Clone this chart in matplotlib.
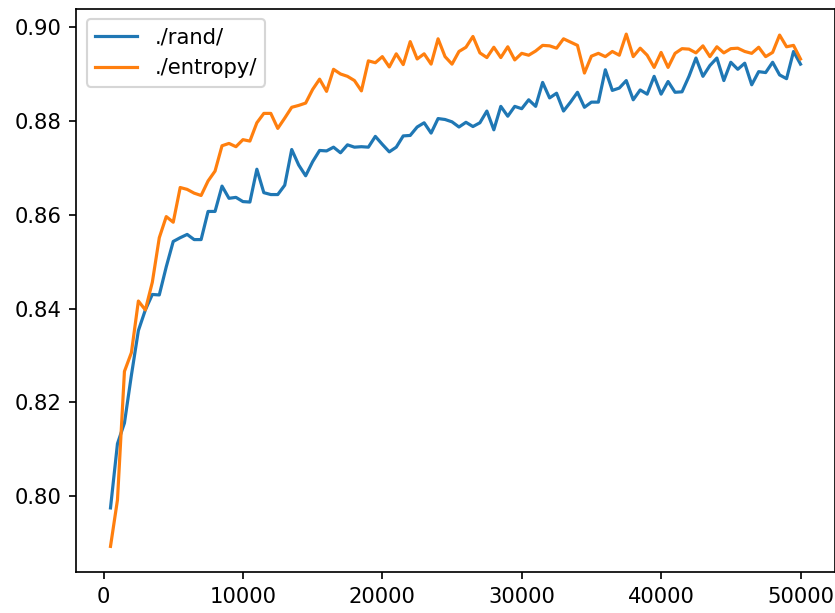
import numpy as np
import matplotlib
matplotlib.use("Agg")
import matplotlib.pyplot as plt

# evaluation every 500 steps
steps = np.arange(500, 50001, 500)

rand_acc = [
    0.7975, 0.8112, 0.8156, 0.8258, 0.8353, 0.8397, 0.8430, 0.8429, 0.8489, 0.8543,
    0.8551, 0.8558, 0.8547, 0.8547, 0.8607, 0.8607, 0.8661, 0.8635, 0.8637, 0.8628,
    0.8627, 0.8697, 0.8647, 0.8643, 0.8643, 0.8663, 0.8739, 0.8706, 0.8683, 0.8713,
    0.8737, 0.8736, 0.8744, 0.8732, 0.8749, 0.8744, 0.8745, 0.8744, 0.8767, 0.8750,
    0.8734, 0.8744, 0.8768, 0.8769, 0.8787, 0.8796, 0.8774, 0.8805, 0.8803, 0.8798,
    0.8787, 0.8797, 0.8788, 0.8796, 0.8821, 0.8781, 0.8831, 0.8810, 0.8831, 0.8826,
    0.8845, 0.8831, 0.8882, 0.8849, 0.8859, 0.8821, 0.8840, 0.8861, 0.8829, 0.8840,
    0.8840, 0.8909, 0.8865, 0.8870, 0.8886, 0.8845, 0.8866, 0.8857, 0.8895, 0.8857,
    0.8884, 0.8861, 0.8862, 0.8895, 0.8934, 0.8895, 0.8918, 0.8934, 0.8886, 0.8925,
    0.8910, 0.8923, 0.8877, 0.8905, 0.8903, 0.8925, 0.8898, 0.8890, 0.8948, 0.8921,
]

entropy_acc = [
    0.7893, 0.7992, 0.8266, 0.8306, 0.8416, 0.8397, 0.8456, 0.8551, 0.8596, 0.8584,
    0.8658, 0.8654, 0.8646, 0.8641, 0.8672, 0.8693, 0.8747, 0.8752, 0.8745, 0.8760,
    0.8757, 0.8796, 0.8816, 0.8816, 0.8784, 0.8806, 0.8829, 0.8833, 0.8838, 0.8867,
    0.8889, 0.8863, 0.8910, 0.8900, 0.8895, 0.8886, 0.8864, 0.8928, 0.8924, 0.8937,
    0.8915, 0.8943, 0.8920, 0.8969, 0.8932, 0.8943, 0.8921, 0.8975, 0.8937, 0.8921,
    0.8948, 0.8957, 0.8980, 0.8945, 0.8935, 0.8957, 0.8935, 0.8958, 0.8930, 0.8944,
    0.8940, 0.8949, 0.8961, 0.8960, 0.8955, 0.8975, 0.8968, 0.8961, 0.8902, 0.8938,
    0.8944, 0.8937, 0.8948, 0.8940, 0.8985, 0.8937, 0.8955, 0.8940, 0.8914, 0.8946,
    0.8914, 0.8944, 0.8954, 0.8953, 0.8945, 0.8960, 0.8937, 0.8958, 0.8945, 0.8954,
    0.8955, 0.8948, 0.8944, 0.8957, 0.8937, 0.8946, 0.8983, 0.8958, 0.8961, 0.8932,
]

labels = ["./rand/", "./entropy/"]

DPI = 152.5
fig = plt.figure(figsize=(835 / DPI, 613 / DPI), dpi=DPI)
ax = fig.add_axes([76 / 835, 41 / 613, 759 / 835, 563.5 / 613])

ax.plot(steps, rand_acc, label=labels[0])
ax.plot(steps, entropy_acc, label=labels[1])
ax.legend(loc="upper left")

fig.savefig("out.png", dpi=DPI)
plt.close(fig)
